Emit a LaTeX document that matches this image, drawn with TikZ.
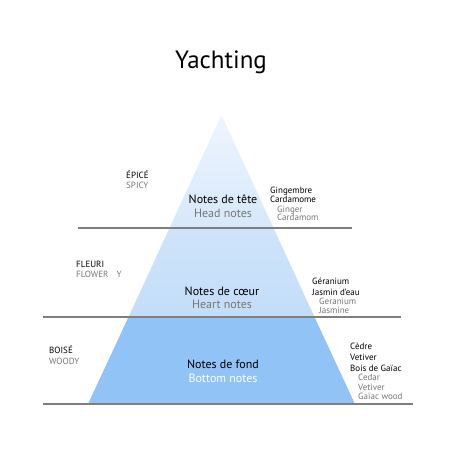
\documentclass[tikz,border=0pt]{standalone}
\usepackage{fontspec}
\setmainfont{PT Sans}
\definecolor{topA}{HTML}{EEF5FD}
\definecolor{topB}{HTML}{D6E8FB}
\definecolor{midA}{HTML}{CFE4FB}
\definecolor{midB}{HTML}{C3DDF9}
\definecolor{botC}{HTML}{91C3F6}
\definecolor{sepline}{HTML}{7F7F7F}
\definecolor{graytxt}{HTML}{767676}
\tikzset{
  sep/.style={draw=sepline,line width=1.1pt},
  small/.style={inner sep=0pt,anchor=base west,font=\fontsize{9}{10}\selectfont},
  smallgray/.style={small,text=graytxt},
  mid/.style={inner sep=0pt,anchor=base,font=\fontsize{12}{14}\selectfont},
  midgray/.style={mid,text=graytxt},
}
\begin{document}
\begin{tikzpicture}[x=1pt,y=-1pt]
\useasboundingbox (0,0) rectangle (458,458);
% triangle sections
\shade[top color=topA,bottom color=topB] (221.5,115) -- (273.5,228) -- (169.5,228) -- cycle;
\shade[top color=midA,bottom color=midB] (169.5,228) -- (273.5,228) -- (314.5,317) -- (128.5,317) -- cycle;
\fill[botC] (128.5,317) -- (314.5,317) -- (355,404) -- (88,404) -- cycle;
% separators
\coordinate (l1a) at (78,228); \coordinate (l1b) at (352,228);
\coordinate (l2a) at (43,317); \coordinate (l2b) at (401,317);
\coordinate (l3a) at (43,404); \coordinate (l3b) at (413,404);
\draw[sep] (l1a) -- (l1b);
\draw[sep] (l2a) -- (l2b);
\draw[sep] (l3a) -- (l3b);
% title
\node[inner sep=0pt,anchor=base,font=\fontsize{25}{28}\selectfont] (title) at (221,68) {Yachting};
% head
\node[small] (epice) at (126,178) {ÉPICÉ};
\node[smallgray] (spicy) at (126,188) {SPICY};
\node[mid] (tete) at (223,203) {Notes de tête};
\node[midgray] (head) at (223,217) {Head notes};
\node[small] (r1a) at (270,193) {Gingembre};
\node[small] (r1b) at (270,202) {Cardamome};
\node[smallgray] (r1c) at (277,212) {Ginger};
\node[smallgray] (r1d) at (277,220) {Cardamom};
% heart
\node[small] (fleuri) at (76,267) {FLEURI};
\node[smallgray] (flowery) at (76,277) {FLOWER\hspace{8pt}Y};
\node[mid] (coeur) at (222,295) {Notes de cœur};
\node[midgray] (heart) at (222,308) {Heart notes};
\node[small] (r2a) at (312,284) {Géranium};
\node[small] (r2b) at (312,295) {Jasmin d'eau};
\node[smallgray] (r2c) at (319,304) {Geranium};
\node[smallgray] (r2d) at (319,313) {Jasmine};
% base
\node[small] (boise) at (49,353) {BOISÉ};
\node[smallgray] (woody) at (49,364) {WOODY};
\node[mid] (fond) at (223,368) {Notes de fond};
\node[mid,text=white] (bottom) at (223,382) {Bottom notes};
\node[small] (r3a) at (350,349) {Cèdre};
\node[small] (r3b) at (350,360) {Vetiver};
\node[small] (r3c) at (350,371) {Bois de Gaïac};
\node[smallgray] (r3d) at (358,380) {Cedar};
\node[smallgray] (r3e) at (358,390) {Vetiver};
\node[smallgray] (r3f) at (358,399) {Gaïac wood};
\end{tikzpicture}
\end{document}
